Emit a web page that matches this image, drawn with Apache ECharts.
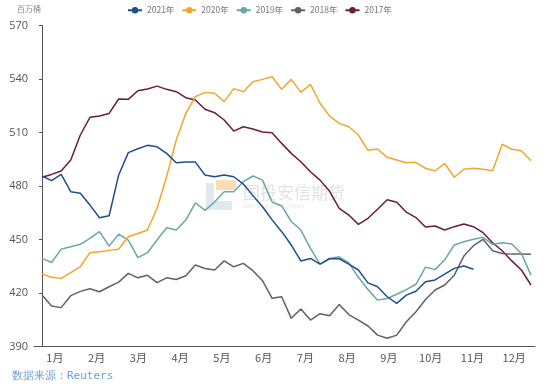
<!DOCTYPE html>
<html><head><meta charset="utf-8">
<script src="https://cdn.jsdelivr.net/npm/echarts@6/dist/echarts.min.js"></script>
<style>html,body{margin:0;padding:0;background:#fff}#c{width:552px;height:389px}</style>
</head><body><div id="c"></div>
<script>
const months = ['1月','2月','3月','4月','5月','6月','7月','8月','9月','10月','11月','12月'];
const yTicks = {min: 390, max: 570, step: 30};
const legendNames = ['2021年','2020年','2019年','2018年','2017年'];

const y2021 = [485.6, 483, 486.5, 476.8, 475.9, 469.3, 462.2, 463.3, 486.2, 498.7, 500.9, 502.8, 502, 498.3, 493, 493.4, 493.4, 486.2, 485.2, 486.2, 485.2, 481.1, 474.6, 468.4, 461, 454.4, 446.9, 438, 439.4, 436.2, 439.2, 439.2, 436.2, 432.9, 425.7, 423.5, 417.9, 414.2, 418.8, 421, 426.3, 427.3, 430.6, 433.8, 435.1, 433.3];
const y2020 = [430.6, 428.8, 428.2, 431.4, 434.7, 442.6, 443.1, 443.9, 444.5, 451.5, 453.4, 455.3, 467.5, 485.2, 505.8, 520.7, 530.1, 532.5, 532, 527.3, 534.6, 532.9, 538.5, 539.8, 541.3, 534.2, 539.8, 532.5, 537, 526.4, 519.2, 515.1, 513.2, 508.6, 500, 500.7, 496.1, 494.6, 493, 493.3, 489.9, 488.4, 492.7, 484.9, 489.4, 489.9, 489.4, 488.6, 503.4, 500.6, 499.8, 494.2];
const y2019 = [439.4, 437.1, 444.6, 445.9, 447.3, 450.6, 454.4, 446.3, 453, 449.7, 439.8, 442.6, 449.7, 456.6, 455.3, 460.9, 470.6, 466.3, 471, 476.8, 476.8, 482.4, 485.6, 483.3, 471, 468.8, 460.1, 455.3, 445, 436.2, 439.4, 440.3, 436.9, 428.8, 422, 416, 416.9, 419.3, 421.9, 424.9, 434.5, 433.1, 438.6, 446.9, 448.7, 450.1, 451.2, 447.3, 448.2, 447.5, 442.2, 430];
const y2018 = [418.9, 412.7, 411.8, 418.5, 420.9, 422.4, 420.7, 423.5, 426.1, 431, 428.5, 429.9, 425.8, 428.5, 427.6, 429.7, 435.7, 433.7, 432.9, 438, 434.7, 436.6, 432.5, 426.9, 417, 417.9, 405.8, 411, 404.8, 408.4, 407.3, 413.5, 407.9, 404.8, 401.5, 396.4, 394.6, 396.4, 403.9, 409.5, 416.4, 421.7, 424.5, 430, 440.7, 446.5, 450.1, 443.7, 442.2, 441.8, 441.8, 441.7];
const y2017 = [484.9, 486.5, 488.4, 494.6, 508.6, 518.5, 519.2, 520.7, 528.8, 528.6, 533.4, 534.4, 536, 534.2, 532.9, 529.5, 528.2, 523, 521.1, 517, 510.8, 513.2, 512, 510.3, 509.9, 503.9, 498.3, 493.6, 488, 483.3, 477, 467.5, 463.7, 458.5, 461.9, 467, 472.3, 470.9, 465.3, 462.3, 457, 457.6, 455.3, 457.2, 458.7, 457.2, 453.8, 448.2, 443.7, 438, 432.9, 424.5];

const colors = ['#1d4f8f', '#f2a62a', '#6aa6a6', '#5e6268', '#6a1c3c'];
const seriesValues = [y2021, y2020, y2019, y2018, y2017];

const chart = echarts.init(document.getElementById('c'), null, {renderer: 'canvas'});
const series = seriesValues.map((arr, k) => ({
  name: legendNames[k],
  type: 'line',
  xAxisIndex: 1,
  data: arr.map((v, i) => [i, v]),
  symbol: 'circle',
  symbolSize: 8,
  showSymbol: false,
  smooth: false,
  itemStyle: {color: colors[k]},
  lineStyle: {color: colors[k], width: 1.5},
  z: 10 - k
}));

chart.setOption({
  animation: false,
  backgroundColor: '#fff',
  color: colors,
  grid: {left: 34, right: 17, top: 25.5, bottom: 42.5},
  legend: {
    data: legendNames,
    top: 1,
    left: 122,
    itemWidth: 14,
    itemHeight: 8,
    itemGap: 7,
    textStyle: {fontSize: 8.5, color: '#777', fontFamily: 'Noto Sans CJK SC'}
  },
  xAxis: [
    {
      type: 'category', data: months, boundaryGap: true,
      axisLine: {lineStyle: {color: '#555', width: 1}},
      axisTick: {length: 3, lineStyle: {color: '#555'}},
      axisLabel: {color: '#555', fontSize: 11, margin: 6, fontFamily: 'Noto Sans CJK SC'}
    },
    {type: 'value', min: -0.834, max: 51.42, show: false}
  ],
  yAxis: {
    type: 'value', min: yTicks.min, max: yTicks.max, interval: yTicks.step,
    axisLine: {show: true, lineStyle: {color: '#555', width: 1}},
    axisTick: {show: true, length: 3, lineStyle: {color: '#555'}},
    splitLine: {show: false},
    axisLabel: {color: '#555', fontSize: 11, margin: 6, fontFamily: 'Open Sans'}
  },
  graphic: [
    {type: 'text', left: 17, top: 5, style: {text: '百万桶', fill: '#888', fontSize: 8, fontFamily: 'Noto Sans CJK SC'}},
    {type: 'rect', left: 206, top: 183, shape: {width: 26, height: 27}, style: {fill: 'rgba(170,190,215,0.35)'}, z: 1},
    {type: 'rect', left: 214, top: 183, shape: {width: 18, height: 18}, style: {fill: '#fff'}, z: 1},
    {type: 'rect', left: 216, top: 180, shape: {width: 20, height: 10}, style: {fill: 'rgba(245,180,90,0.45)'}, z: 1},
    {type: 'text', left: 243, top: 184, style: {text: '国投安信期货', fill: 'rgba(170,170,170,0.35)', fontSize: 17, fontFamily: 'Noto Sans CJK SC'}, z: 1},
    {type: 'text', left: 243, top: 204, style: {text: 'SDIC ESSENCE FUTURES', fill: 'rgba(170,170,170,0.3)', fontSize: 5, fontFamily: 'DejaVu Sans'}, z: 1},
    {type: 'text', left: 12, top: 371, style: {text: '数据来源：Reuters', fill: '#6a9fd4', fontSize: 11, fontFamily: 'DejaVu Sans Mono'}}
  ],
  series: series
});
</script></body></html>
